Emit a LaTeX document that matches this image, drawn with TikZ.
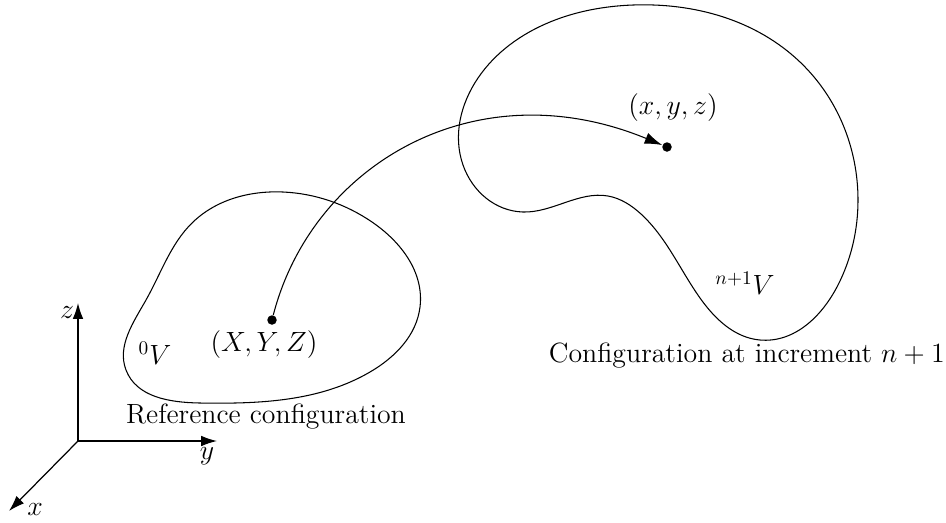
\documentclass[tikz,border=0pt]{standalone}
\usetikzlibrary{arrows.meta,positioning,hobby}
\begin{document}
\begin{tikzpicture}[x=0.02cm,y=-0.02cm,
    font=\Large,
    body/.style={line width=0.6pt, use Hobby shortcut, closed=true},
    axis/.style={-{Latex[length=9pt,width=6pt]}, line width=0.7pt},
    dot/.style={circle, fill, inner sep=0pt, minimum size=0.19cm},
    lbl/.style={inner sep=1pt, scale=1.1, transform shape},
    map/.style={-{Latex[length=10pt,width=6.5pt]}, line width=0.6pt}
]
\useasboundingbox (0,0) rectangle (946,522);

% reference configuration
\draw[body] (283,192) .. (372,222) .. (420,307) .. (370,372) .. (200,403)
    .. (126,370) .. (146,300) .. (192,223);

% configuration at increment n+1
\draw[body] (633,5) .. (800,62) .. (858,200) .. (838,285) .. (760,340)
    .. (700,298) .. (641,214) .. (608,196) .. (523,212) .. (463,165)
    .. (478,78) .. (550,22);

% material points
\node[dot] (P0) at (272,320) {};
\node[dot] (P1) at (667,147) {};
\node[lbl] (P0lbl) at (264,345) {$(X,Y,Z)$};
\node[lbl] (P1lbl) at (673,108) {$(x,y,z)$};
\node[lbl] (V0) at (155,353) {$^{0}V$};
\node[lbl] (V1) at (745,283) {$^{n+1}V$};
\node[lbl] (ref) at (266,417) {Reference configuration};
\node[lbl, anchor=east] (cur) at (947,356) {Configuration at increment $n+1$};

% mapping
\draw[map] (P0) .. controls (312,165) and (475,68) .. (P1);

% axes
\coordinate (O) at (78,441);
\coordinate (zend) at (78,303);
\coordinate (yend) at (217,441);
\coordinate (xend) at (9,511);
\draw[axis] (O) -- (zend);
\draw[axis] (O) -- (yend);
\draw[axis] (O) -- (xend);
\node[lbl] (zlbl) at (67,312) {$z$};
\node[lbl] (ylbl) at (207,456) {$y$};
\node[lbl] (xlbl) at (35,509) {$x$};

\end{tikzpicture}
\end{document}
